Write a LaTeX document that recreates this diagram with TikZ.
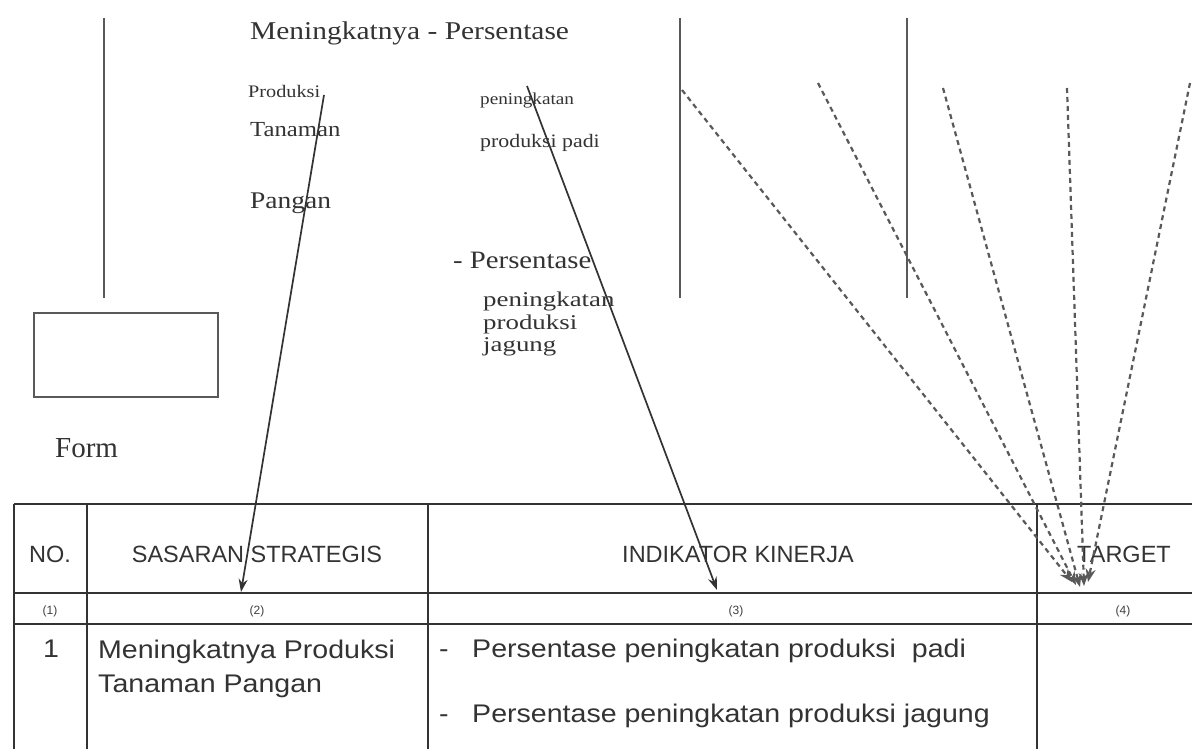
\documentclass[tikz,border=0pt]{standalone}
\usepackage{fontspec}
\setmainfont{Liberation Serif}
\newfontfamily\serifst[FakeStretch=1.15]{Liberation Serif}
\newfontfamily\serifwd[FakeStretch=1.28]{Liberation Serif}
\newfontfamily\serifpl{Liberation Serif}
\newfontfamily\sansf{Liberation Sans}
\newfontfamily\sansst[FakeStretch=1.12]{Liberation Sans}
\usetikzlibrary{arrows.meta}
\newcommand\myfs[1]{\fontsize{#1}{#1}\selectfont}
\begin{document}
\begin{tikzpicture}[x=1pt,y=-1pt,
  vline/.style={draw=black!65, line width=2.2pt},
  tline/.style={draw=black!80, line width=2.4pt},
  txt/.style={inner sep=0pt, anchor=base west, text=black!80},
  hdr/.style={inner sep=0pt, anchor=base, text=black!80, font=\sansf\myfs{23.5}},
  sub/.style={inner sep=0pt, anchor=base, text=black!75, font=\sansf\myfs{12}},
  rowt/.style={inner sep=0pt, anchor=base west, text=black!80, font=\sansst\myfs{25.5}},
  arr/.style={draw=black!80, line width=1.7pt, -{Stealth[length=13pt,width=9pt]}},
  darr/.style={draw=black!65, line width=2.2pt, dash pattern=on 5pt off 4pt, -{Stealth[length=13pt,width=10pt]}}]
\useasboundingbox[fill=white] (0,0) rectangle (1192,749);

% vertical lines and box
\draw[vline] (104,18) -- (104,298);
\draw[vline] (680,18) -- (680,298);
\draw[vline] (907,18) -- (907,298);
\node[draw=black!65, line width=2.2pt, minimum width=184pt, minimum height=84pt, inner sep=0pt] (box) at (126,355) {};

% loose texts
\node[txt, font=\serifst\myfs{25.6}] (title) at (250,40) {Meningkatnya - Persentase};
\node[txt, font=\serifst\myfs{17.6}] (prod) at (248,98) {Produksi};
\node[txt, font=\serifst\myfs{21.5}] (tan) at (250,137) {Tanaman};
\node[txt, font=\serifst\myfs{23.9}] (pang) at (250,208) {Pangan};
\node[txt, font=\serifst\myfs{16.7}] (pen1) at (480,105) {peningkatan};
\node[txt, font=\serifst\myfs{19}] (padi) at (480,148) {produksi padi};
\node[txt, font=\serifst\myfs{25}] (pers2) at (453,268) {- Persentase};
\node[txt, font=\serifwd\myfs{21}] (pen2) at (483,306) {peningkatan};
\node[txt, font=\serifwd\myfs{21}] (prod2) at (483,329) {produksi};
\node[txt, font=\serifwd\myfs{21}] (jag) at (483,351) {jagung};
\node[txt, font=\serifpl\myfs{29}] (form) at (55,457) {Form};

% table
\draw[tline] (14,504) -- (1192,504);
\draw[tline] (14,593) -- (1192,593);
\draw[tline] (14,624) -- (1192,624);
\draw[tline] (14,504) -- (14,749);
\draw[tline] (87,504) -- (87,749);
\draw[tline] (428,504) -- (428,749);
\draw[tline] (1037,504) -- (1037,749);

\node[hdr] (hno) at (50,562) {NO.};
\node[hdr] (hss) at (257,562) {SASARAN STRATEGIS};
\node[hdr] (hik) at (738,562) {INDIKATOR KINERJA};
\node[hdr] (htg) at (1124,562) {TARGET};
\node[sub] (s1) at (50,614) {(1)};
\node[sub] (s2) at (257,614) {(2)};
\node[sub] (s3) at (736,614) {(3)};
\node[sub] (s4) at (1123,614) {(4)};

\node[rowt, anchor=base] (r1) at (51,657) {1};
\node[rowt] (r2a) at (98,658) {Meningkatnya Produksi};
\node[rowt] (r2b) at (98,692) {Tanaman Pangan};
\node[rowt] (d1) at (439,657) {-};
\node[rowt] (r3a) at (472,657) {Persentase peningkatan produksi \ padi};
\node[rowt] (d2) at (439,722) {-};
\node[rowt] (r3b) at (472,722) {Persentase peningkatan produksi jagung};

% arrows
\coordinate (a1s) at (324,95);
\coordinate (a1e) at (241,592);
\coordinate (a2s) at (527,86);
\coordinate (a2e) at (717,590);
\draw[arr] (a1s) -- (a1e);
\draw[arr] (a2s) -- (a2e);

\coordinate (q1s) at (682,90);
\coordinate (q2s) at (818,83);
\coordinate (q3s) at (943,88);
\coordinate (q4s) at (1067,88);
\coordinate (q5s) at (1190,83);
\coordinate (q1e) at (1072,582);
\coordinate (q2e) at (1076,585);
\coordinate (q3e) at (1080,587);
\coordinate (q4e) at (1084,586);
\coordinate (q5e) at (1088,582);
\draw[darr] (q1s) -- (q1e);
\draw[darr] (q2s) -- (q2e);
\draw[darr] (q3s) -- (q3e);
\draw[darr] (q4s) -- (q4e);
\draw[darr] (q5s) -- (q5e);
\end{tikzpicture}
\end{document}
